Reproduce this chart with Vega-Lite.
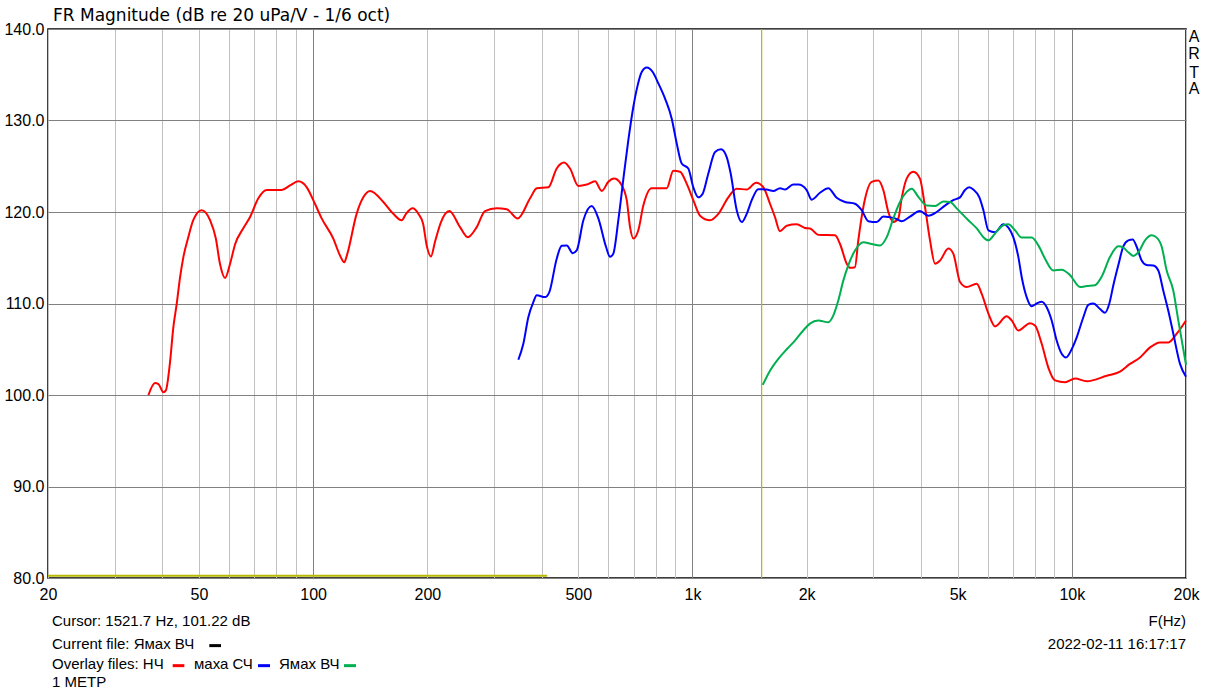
{
  "$schema": "https://vega.github.io/schema/vega-lite/v6.json",
  "width": 1138,
  "height": 549,
  "autosize": {"type": "none"},
  "padding": {"left": 48, "top": 29, "right": 32, "bottom": 112},
  "background": "white",
  "config": {
    "font": "Liberation Sans",
    "view": {"stroke": "black", "strokeWidth": 1.5},
    "text": {"font": "Liberation Sans", "fontSize": 15, "color": "black"}
  },
  "title": {"text": "FR Magnitude (dB re 20 uPa/V - 1/6 oct)", "anchor": "start", "frame": "group", "fontSize": 17, "fontWeight": "normal", "color": "black", "dx": 5, "offset": -4, "font": "DejaVu Sans"},
  "datasets": {
    "curves": [
      {"s":"cursor","f":20,"db":80.25},{"s":"cursor","f":414,"db":80.25},
      {"s":"НЧ","f":36.8,"db":100.0},{"s":"НЧ","f":38.3,"db":101.3},{"s":"НЧ","f":39.1,"db":101.2},{"s":"НЧ","f":40.3,"db":100.3},{"s":"НЧ","f":40.9,"db":100.5},{"s":"НЧ","f":41.9,"db":103.4},{"s":"НЧ","f":42.8,"db":107.4},{"s":"НЧ","f":43.7,"db":110.0},{"s":"НЧ","f":44.6,"db":112.9},{"s":"НЧ","f":45.5,"db":115.1},{"s":"НЧ","f":46.9,"db":117.3},{"s":"НЧ","f":48.3,"db":119.1},{"s":"НЧ","f":50.8,"db":120.2},{"s":"НЧ","f":53.5,"db":119.1},{"s":"НЧ","f":55.4,"db":117.1},{"s":"НЧ","f":56.8,"db":114.35},{"s":"НЧ","f":58.6,"db":112.8},{"s":"НЧ","f":60.4,"db":114.35},{"s":"НЧ","f":62.3,"db":116.5},{"s":"НЧ","f":65.4,"db":118.2},{"s":"НЧ","f":68.2,"db":119.45},{"s":"НЧ","f":71.7,"db":121.5},{"s":"НЧ","f":75.4,"db":122.4},{"s":"НЧ","f":82.6,"db":122.4},{"s":"НЧ","f":86.9,"db":122.9},{"s":"НЧ","f":91.4,"db":123.35},{"s":"НЧ","f":96.2,"db":122.7},{"s":"НЧ","f":101.1,"db":120.9},{"s":"НЧ","f":105.3,"db":119.3},{"s":"НЧ","f":113.0,"db":117.1},{"s":"НЧ","f":117.7,"db":115.25},{"s":"НЧ","f":120.8,"db":114.5},{"s":"НЧ","f":123.0,"db":115.4},{"s":"НЧ","f":130.2,"db":119.8},{"s":"НЧ","f":135.6,"db":121.6},{"s":"НЧ","f":141.3,"db":122.3},{"s":"НЧ","f":153.1,"db":121.1},{"s":"НЧ","f":162.7,"db":119.8},{"s":"НЧ","f":171.2,"db":119.1},{"s":"НЧ","f":175.7,"db":119.8},{"s":"НЧ","f":183.0,"db":120.4},{"s":"НЧ","f":189.4,"db":119.8},{"s":"НЧ","f":195.0,"db":118.7},{"s":"НЧ","f":199.2,"db":116.35},{"s":"НЧ","f":204.5,"db":115.15},{"s":"НЧ","f":209.4,"db":116.7},{"s":"НЧ","f":217.3,"db":118.9},{"s":"НЧ","f":228.6,"db":120.1},{"s":"НЧ","f":243.9,"db":118.35},{"s":"НЧ","f":255.6,"db":117.25},{"s":"НЧ","f":269.9,"db":118.35},{"s":"НЧ","f":283.8,"db":120.1},{"s":"НЧ","f":304.7,"db":120.4},{"s":"НЧ","f":323.8,"db":120.3},{"s":"НЧ","f":346.2,"db":119.3},{"s":"НЧ","f":373.2,"db":121.5},{"s":"НЧ","f":388.6,"db":122.6},{"s":"НЧ","f":416.9,"db":122.7},{"s":"НЧ","f":438.6,"db":124.75},{"s":"НЧ","f":458.6,"db":125.4},{"s":"НЧ","f":475.6,"db":124.75},{"s":"НЧ","f":500.0,"db":122.85},{"s":"НЧ","f":526.3,"db":123.0},{"s":"НЧ","f":553.5,"db":123.35},{"s":"НЧ","f":576.5,"db":122.3},{"s":"НЧ","f":600.1,"db":123.3},{"s":"НЧ","f":621.2,"db":123.65},{"s":"НЧ","f":646.9,"db":123.1},{"s":"НЧ","f":671.0,"db":121.3},{"s":"НЧ","f":684.6,"db":118.35},{"s":"НЧ","f":698.5,"db":117.1},{"s":"НЧ","f":719.8,"db":118.0},{"s":"НЧ","f":742.0,"db":120.7},{"s":"НЧ","f":780.5,"db":122.6},{"s":"НЧ","f":855.2,"db":122.6},{"s":"НЧ","f":890.2,"db":124.5},{"s":"НЧ","f":927.0,"db":124.4},{"s":"НЧ","f":965.4,"db":123.1},{"s":"НЧ","f":1005,"db":121.3},{"s":"НЧ","f":1047,"db":119.6},{"s":"НЧ","f":1113,"db":119.1},{"s":"НЧ","f":1170,"db":119.8},{"s":"НЧ","f":1243,"db":121.6},{"s":"НЧ","f":1308,"db":122.55},{"s":"НЧ","f":1390,"db":122.45},{"s":"НЧ","f":1471,"db":123.2},{"s":"НЧ","f":1538,"db":122.7},{"s":"НЧ","f":1601,"db":120.9},{"s":"НЧ","f":1650,"db":119.45},{"s":"НЧ","f":1701,"db":117.9},{"s":"НЧ","f":1772,"db":118.5},{"s":"НЧ","f":1883,"db":118.65},{"s":"НЧ","f":1981,"db":118.25},{"s":"НЧ","f":2041,"db":118.2},{"s":"НЧ","f":2147,"db":117.5},{"s":"НЧ","f":2376,"db":117.45},{"s":"НЧ","f":2449,"db":116.5},{"s":"НЧ","f":2551,"db":114.35},{"s":"НЧ","f":2602,"db":113.9},{"s":"НЧ","f":2681,"db":113.97},{"s":"НЧ","f":2736,"db":116.9},{"s":"НЧ","f":2832,"db":120.9},{"s":"НЧ","f":2968,"db":123.3},{"s":"НЧ","f":3090,"db":123.45},{"s":"НЧ","f":3185,"db":122.4},{"s":"НЧ","f":3283,"db":120.0},{"s":"НЧ","f":3384,"db":118.9},{"s":"НЧ","f":3488,"db":119.3},{"s":"НЧ","f":3560,"db":121.5},{"s":"НЧ","f":3670,"db":123.65},{"s":"НЧ","f":3820,"db":124.4},{"s":"НЧ","f":3978,"db":123.65},{"s":"НЧ","f":4102,"db":120.55},{"s":"НЧ","f":4229,"db":116.9},{"s":"НЧ","f":4360,"db":114.35},{"s":"НЧ","f":4494,"db":114.7},{"s":"НЧ","f":4726,"db":116.0},{"s":"НЧ","f":4870,"db":115.45},{"s":"НЧ","f":5074,"db":112.35},{"s":"НЧ","f":5283,"db":111.8},{"s":"НЧ","f":5615,"db":112.15},{"s":"НЧ","f":5788,"db":111.05},{"s":"НЧ","f":6027,"db":108.9},{"s":"НЧ","f":6275,"db":107.5},{"s":"НЧ","f":6738,"db":108.6},{"s":"НЧ","f":6941,"db":108.15},{"s":"НЧ","f":7228,"db":107.05},{"s":"НЧ","f":7760,"db":107.85},{"s":"НЧ","f":7999,"db":107.6},{"s":"НЧ","f":8330,"db":105.6},{"s":"НЧ","f":8670,"db":103.0},{"s":"НЧ","f":9030,"db":101.6},{"s":"НЧ","f":9596,"db":101.4},{"s":"НЧ","f":10196,"db":101.8},{"s":"НЧ","f":10946,"db":101.5},{"s":"НЧ","f":12360,"db":102.1},{"s":"НЧ","f":13398,"db":102.55},{"s":"НЧ","f":14236,"db":103.4},{"s":"НЧ","f":15132,"db":104.1},{"s":"НЧ","f":16078,"db":105.2},{"s":"НЧ","f":17080,"db":105.75},{"s":"НЧ","f":17964,"db":105.75},{"s":"НЧ","f":18904,"db":106.7},{"s":"НЧ","f":20000,"db":108.15},
      {"s":"маха СЧ","f":347.5,"db":103.85},{"s":"маха СЧ","f":358.2,"db":105.6},{"s":"маха СЧ","f":369.2,"db":108.5},{"s":"маха СЧ","f":380.6,"db":110.15},{"s":"маха СЧ","f":388.6,"db":110.9},{"s":"маха СЧ","f":408.6,"db":110.7},{"s":"маха СЧ","f":419.4,"db":111.25},{"s":"маха СЧ","f":438.6,"db":114.9},{"s":"маха СЧ","f":452.2,"db":116.3},{"s":"маха СЧ","f":466.2,"db":116.35},{"s":"маха СЧ","f":483.4,"db":115.5},{"s":"маха СЧ","f":495.2,"db":115.8},{"s":"маха СЧ","f":515.7,"db":119.1},{"s":"маха СЧ","f":542.5,"db":120.65},{"s":"маха СЧ","f":564.7,"db":119.3},{"s":"маха СЧ","f":591.6,"db":116.2},{"s":"маха СЧ","f":606.2,"db":115.1},{"s":"маха СЧ","f":618.5,"db":115.45},{"s":"маха СЧ","f":637.6,"db":119.1},{"s":"маха СЧ","f":660.0,"db":124.2},{"s":"маха СЧ","f":677.5,"db":127.85},{"s":"маха СЧ","f":698.5,"db":131.5},{"s":"маха СЧ","f":715.6,"db":133.7},{"s":"маха СЧ","f":734.8,"db":135.3},{"s":"маха СЧ","f":757.5,"db":135.8},{"s":"маха СЧ","f":785.6,"db":135.3},{"s":"маха СЧ","f":812.9,"db":134.05},{"s":"маха СЧ","f":846.6,"db":132.4},{"s":"маха СЧ","f":881.7,"db":130.2},{"s":"маха СЧ","f":908.7,"db":127.5},{"s":"маха СЧ","f":936.6,"db":125.3},{"s":"маха СЧ","f":975,"db":124.75},{"s":"маха СЧ","f":1005,"db":122.7},{"s":"маха СЧ","f":1036,"db":121.6},{"s":"маха СЧ","f":1064,"db":122.0},{"s":"маха СЧ","f":1101,"db":124.2},{"s":"маха СЧ","f":1147,"db":126.55},{"s":"маха СЧ","f":1189,"db":126.85},{"s":"маха СЧ","f":1231,"db":126.0},{"s":"маха СЧ","f":1261,"db":124.2},{"s":"маха СЧ","f":1308,"db":120.2},{"s":"маха СЧ","f":1349,"db":118.9},{"s":"маха СЧ","f":1390,"db":119.8},{"s":"маха СЧ","f":1433,"db":121.3},{"s":"маха СЧ","f":1491,"db":122.5},{"s":"маха СЧ","f":1569,"db":122.45},{"s":"маха СЧ","f":1634,"db":122.3},{"s":"маха СЧ","f":1701,"db":122.6},{"s":"маха СЧ","f":1754,"db":122.45},{"s":"маха СЧ","f":1843,"db":123.0},{"s":"маха СЧ","f":1902,"db":123.0},{"s":"маха СЧ","f":2000,"db":122.4},{"s":"маха СЧ","f":2062,"db":121.35},{"s":"маха СЧ","f":2168,"db":122.1},{"s":"маха СЧ","f":2281,"db":122.6},{"s":"маха СЧ","f":2400,"db":121.55},{"s":"маха СЧ","f":2523,"db":121.1},{"s":"маха СЧ","f":2681,"db":120.9},{"s":"маха СЧ","f":2793,"db":120.2},{"s":"маха СЧ","f":2907,"db":119.0},{"s":"маха СЧ","f":3058,"db":118.9},{"s":"маха СЧ","f":3185,"db":119.5},{"s":"маха СЧ","f":3283,"db":119.45},{"s":"маха СЧ","f":3418,"db":119.3},{"s":"маха СЧ","f":3560,"db":119.0},{"s":"маха СЧ","f":3744,"db":119.5},{"s":"маха СЧ","f":3978,"db":120.1},{"s":"маха СЧ","f":4185,"db":119.6},{"s":"маха СЧ","f":4404,"db":120.0},{"s":"маха СЧ","f":4631,"db":120.7},{"s":"маха СЧ","f":4870,"db":121.3},{"s":"маха СЧ","f":5074,"db":121.6},{"s":"маха СЧ","f":5229,"db":122.4},{"s":"маха СЧ","f":5368,"db":122.7},{"s":"маха СЧ","f":5500,"db":122.45},{"s":"маха СЧ","f":5706,"db":121.6},{"s":"маха СЧ","f":5847,"db":120.2},{"s":"маха СЧ","f":6027,"db":118.0},{"s":"маха СЧ","f":6275,"db":117.8},{"s":"маха СЧ","f":6600,"db":118.65},{"s":"маха СЧ","f":6805,"db":118.3},{"s":"маха СЧ","f":7011,"db":117.25},{"s":"маха СЧ","f":7228,"db":115.1},{"s":"маха СЧ","f":7377,"db":112.9},{"s":"маха СЧ","f":7602,"db":110.7},{"s":"маха СЧ","f":7837,"db":109.7},{"s":"маха СЧ","f":8082,"db":110.0},{"s":"маха СЧ","f":8331,"db":110.2},{"s":"маха СЧ","f":8586,"db":109.6},{"s":"маха СЧ","f":8850,"db":108.15},{"s":"маха СЧ","f":9122,"db":105.95},{"s":"маха СЧ","f":9403,"db":104.5},{"s":"маха СЧ","f":9654,"db":104.1},{"s":"маха СЧ","f":9992,"db":105.0},{"s":"маха СЧ","f":10302,"db":106.3},{"s":"маха СЧ","f":10724,"db":108.5},{"s":"маха СЧ","f":11054,"db":109.85},{"s":"маха СЧ","f":11396,"db":110.0},{"s":"маха СЧ","f":11868,"db":109.4},{"s":"маха СЧ","f":12234,"db":109.0},{"s":"маха СЧ","f":12558,"db":110.0},{"s":"маха СЧ","f":12868,"db":112.0},{"s":"маха СЧ","f":13264,"db":114.2},{"s":"маха СЧ","f":13670,"db":116.25},{"s":"маха СЧ","f":14092,"db":116.9},{"s":"маха СЧ","f":14472,"db":117.0},{"s":"маха СЧ","f":14826,"db":116.2},{"s":"маха СЧ","f":15281,"db":114.7},{"s":"маха СЧ","f":15752,"db":114.2},{"s":"маха СЧ","f":16400,"db":114.15},{"s":"маха СЧ","f":16906,"db":113.6},{"s":"маха СЧ","f":17426,"db":111.4},{"s":"маха СЧ","f":17964,"db":109.2},{"s":"маха СЧ","f":18518,"db":106.7},{"s":"маха СЧ","f":19286,"db":103.4},{"s":"маха СЧ","f":20000,"db":102.0},
      {"s":"Ямах ВЧ","f":1532,"db":101.1},{"s":"Ямах ВЧ","f":1601,"db":102.65},{"s":"Ямах ВЧ","f":1684,"db":103.95},{"s":"Ямах ВЧ","f":1772,"db":105.0},{"s":"Ямах ВЧ","f":1863,"db":105.95},{"s":"Ямах ВЧ","f":1959,"db":107.05},{"s":"Ямах ВЧ","f":2040,"db":107.8},{"s":"Ямах ВЧ","f":2146,"db":108.15},{"s":"Ямах ВЧ","f":2280,"db":107.95},{"s":"Ямах ВЧ","f":2352,"db":108.7},{"s":"Ямах ВЧ","f":2424,"db":110.35},{"s":"Ямах ВЧ","f":2498,"db":112.5},{"s":"Ямах ВЧ","f":2576,"db":114.2},{"s":"Ямах ВЧ","f":2682,"db":115.8},{"s":"Ямах ВЧ","f":2822,"db":116.7},{"s":"Ямах ВЧ","f":2968,"db":116.5},{"s":"Ямах ВЧ","f":3122,"db":116.35},{"s":"Ямах ВЧ","f":3252,"db":117.25},{"s":"Ямах ВЧ","f":3384,"db":119.3},{"s":"Ямах ВЧ","f":3524,"db":121.1},{"s":"Ямах ВЧ","f":3670,"db":122.2},{"s":"Ямах ВЧ","f":3784,"db":122.55},{"s":"Ямах ВЧ","f":3940,"db":121.65},{"s":"Ямах ВЧ","f":4146,"db":120.7},{"s":"Ямах ВЧ","f":4360,"db":120.65},{"s":"Ямах ВЧ","f":4586,"db":121.15},{"s":"Ямах ВЧ","f":4776,"db":121.1},{"s":"Ямах ВЧ","f":4972,"db":120.4},{"s":"Ямах ВЧ","f":5336,"db":119.1},{"s":"Ямах ВЧ","f":5616,"db":118.2},{"s":"Ямах ВЧ","f":5846,"db":117.25},{"s":"Ямах ВЧ","f":6026,"db":116.9},{"s":"Ямах ВЧ","f":6276,"db":117.65},{"s":"Ямах ВЧ","f":6600,"db":118.55},{"s":"Ямах ВЧ","f":6802,"db":118.65},{"s":"Ямах ВЧ","f":7084,"db":118.0},{"s":"Ямах ВЧ","f":7378,"db":117.2},{"s":"Ямах ВЧ","f":7838,"db":117.2},{"s":"Ямах ВЧ","f":8162,"db":116.35},{"s":"Ямах ВЧ","f":8500,"db":114.9},{"s":"Ямах ВЧ","f":8938,"db":113.6},{"s":"Ямах ВЧ","f":9406,"db":113.7},{"s":"Ямах ВЧ","f":9894,"db":113.1},{"s":"Ямах ВЧ","f":10512,"db":111.8},{"s":"Ямах ВЧ","f":10946,"db":111.9},{"s":"Ямах ВЧ","f":11512,"db":112.0},{"s":"Ямах ВЧ","f":11992,"db":112.95},{"s":"Ямах ВЧ","f":12612,"db":115.1},{"s":"Ямах ВЧ","f":13264,"db":116.25},{"s":"Ямах ВЧ","f":13670,"db":116.1},{"s":"Ямах ВЧ","f":14092,"db":115.6},{"s":"Ямах ВЧ","f":14526,"db":115.2},{"s":"Ямах ВЧ","f":14974,"db":115.6},{"s":"Ямах ВЧ","f":15596,"db":116.9},{"s":"Ямах ВЧ","f":16244,"db":117.45},{"s":"Ямах ВЧ","f":16742,"db":117.2},{"s":"Ямах ВЧ","f":17258,"db":116.2},{"s":"Ямах ВЧ","f":17786,"db":113.6},{"s":"Ямах ВЧ","f":18518,"db":111.4},{"s":"Ямах ВЧ","f":19086,"db":108.15},{"s":"Ямах ВЧ","f":20000,"db":103.3}
    ],
    "notesLeft": [
      {"text":"Cursor: 1521.7 Hz, 101.22 dB","f":20.49,"db":75.29},
      {"text":"Current file: Ямах ВЧ","f":20.49,"db":72.77},
      {"text":"Overlay files: НЧ","f":20.49,"db":70.58},
      {"text":"маха СЧ","f":48.52,"db":70.58},
      {"text":"Ямах ВЧ","f":81.28,"db":70.58},
      {"text":"1 МЕТР","f":20.49,"db":68.61}
    ],
    "notesRight": [
      {"text":"F(Hz)","f":20000,"db":75.29},
      {"text":"2022-02-11  16:17:17","f":20000,"db":72.77}
    ],
    "arta": [
      {"text":"A","f":21000,"db":139.16},
      {"text":"R","f":21000,"db":137.26},
      {"text":"T","f":21000,"db":135.24},
      {"text":"A","f":21000,"db":133.43}
    ],
    "dashes": [
      {"s":"Current","f":53.24,"f2":57.16,"db":72.61},
      {"s":"НЧ","f":42.63,"f2":45.75,"db":70.42},
      {"s":"маха СЧ","f":71.56,"f2":76.96,"db":70.42},
      {"s":"Ямах ВЧ","f":120.6,"f2":129.7,"db":70.42}
    ]
  },
  "layer": [
    {
      "data": {"name": "curves"},
      "transform": [{"filter": "datum.s == 'cursor'"}],
      "mark": {"type": "line", "strokeWidth": 2},
      "encoding": {
        "x": {"field": "f", "type": "quantitative", "scale": {"type": "log", "domain": [20, 20000], "nice": false},
          "axis": {"title": null, "values": [20,30,40,50,60,70,80,90,100,200,300,400,500,600,700,800,900,1000,2000,3000,4000,5000,6000,7000,8000,9000,10000,20000],
            "grid": true, "gridColor": {"condition": {"test": "datum.value == 100 || datum.value == 1000 || datum.value == 10000", "value": "#808080"}, "value": "#c0c0c0"},
            "gridWidth": 1, "domain": false, "ticks": false, "labelOverlap": false, "labelFlush": false,
            "labelExpr": "indexof([20,50,100,200,500,1000,2000,5000,10000,20000], datum.value) >= 0 ? (datum.value >= 1000 ? (datum.value/1000) + 'k' : '' + datum.value) : ''",
            "labelFont": "Liberation Sans", "labelFontSize": 16, "labelColor": "black", "labelPadding": 8}},
        "y": {"field": "db", "type": "quantitative", "scale": {"domain": [80, 140], "nice": false, "zero": false},
          "axis": {"title": null, "values": [80,90,100,110,120,130,140], "format": ".1f", "grid": true, "gridColor": "#808080", "gridWidth": 1,
            "domain": false, "ticks": false, "labelFlush": false, "labelFont": "Liberation Sans", "labelFontSize": 16, "labelColor": "black", "labelPadding": 4}},
        "color": {"field": "s", "type": "nominal", "legend": null,
          "scale": {"domain": ["НЧ","маха СЧ","Ямах ВЧ","Current","cursor"], "range": ["#ff0000","#0000ff","#00b050","#000000","#b8b800"]}}
      }
    },
    {
      "data": {"values": [{"f": 1521.7}]},
      "mark": {"type": "rule", "color": "#b8b800", "strokeWidth": 1.2},
      "encoding": {"x": {"field": "f", "type": "quantitative"}}
    },
    {
      "data": {"name": "curves"},
      "transform": [{"filter": "datum.s == 'НЧ'"}],
      "mark": {"type": "line", "strokeWidth": 2, "interpolate": "monotone"},
      "encoding": {"x": {"field": "f", "type": "quantitative"}, "y": {"field": "db", "type": "quantitative"}, "color": {"field": "s", "type": "nominal", "legend": null}}
    },
    {
      "data": {"name": "curves"},
      "transform": [{"filter": "datum.s == 'маха СЧ'"}],
      "mark": {"type": "line", "strokeWidth": 2, "interpolate": "monotone"},
      "encoding": {"x": {"field": "f", "type": "quantitative"}, "y": {"field": "db", "type": "quantitative"}, "color": {"field": "s", "type": "nominal", "legend": null}}
    },
    {
      "data": {"name": "curves"},
      "transform": [{"filter": "datum.s == 'Ямах ВЧ'"}],
      "mark": {"type": "line", "strokeWidth": 2, "interpolate": "monotone"},
      "encoding": {"x": {"field": "f", "type": "quantitative"}, "y": {"field": "db", "type": "quantitative"}, "color": {"field": "s", "type": "nominal", "legend": null}}
    },
    {
      "data": {"name": "dashes"},
      "mark": {"type": "rule", "strokeWidth": 3},
      "encoding": {"x": {"field": "f", "type": "quantitative"}, "x2": {"field": "f2"}, "y": {"field": "db", "type": "quantitative"}, "color": {"field": "s", "type": "nominal", "legend": null}}
    },
    {
      "data": {"name": "notesLeft"},
      "mark": {"type": "text", "align": "left", "baseline": "middle", "fontSize": 15, "font": "Liberation Sans", "color": "black"},
      "encoding": {"x": {"field": "f", "type": "quantitative"}, "y": {"field": "db", "type": "quantitative"}, "text": {"field": "text"}}
    },
    {
      "data": {"name": "notesRight"},
      "mark": {"type": "text", "align": "right", "baseline": "middle", "fontSize": 15, "font": "Liberation Sans", "color": "black"},
      "encoding": {"x": {"field": "f", "type": "quantitative"}, "y": {"field": "db", "type": "quantitative"}, "text": {"field": "text"}}
    },
    {
      "data": {"name": "arta"},
      "mark": {"type": "text", "align": "center", "baseline": "middle", "fontSize": 16, "font": "Liberation Sans", "color": "black"},
      "encoding": {"x": {"field": "f", "type": "quantitative"}, "y": {"field": "db", "type": "quantitative"}, "text": {"field": "text"}}
    }
  ]
}
